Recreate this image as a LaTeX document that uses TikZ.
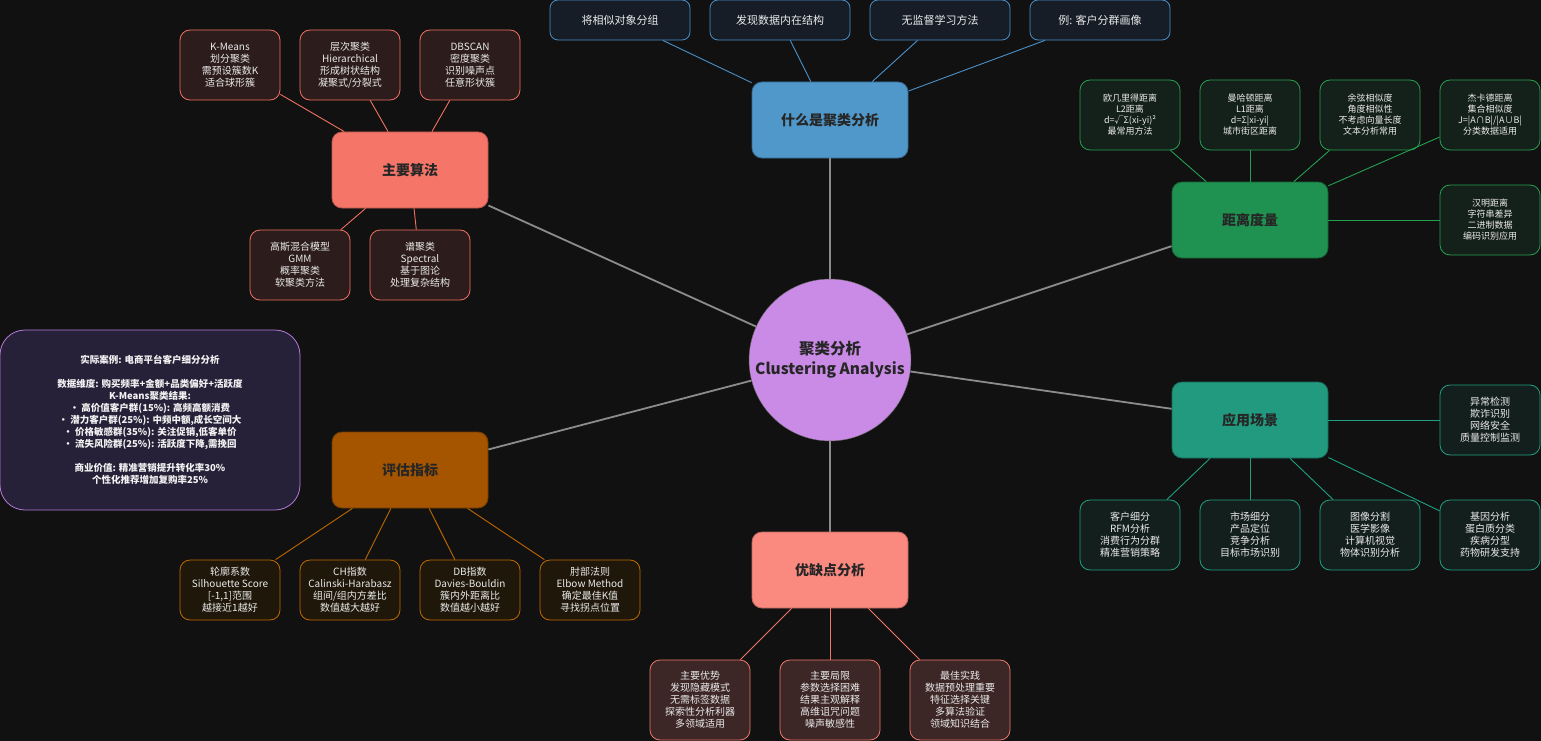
\documentclass[tikz,border=0pt]{standalone}
\usepackage{fontspec}
\setmainfont{Noto Sans CJK SC}
\usepackage{xcolor}
\definecolor{bgdark}{HTML}{111111}
\definecolor{rootfill}{HTML}{C98BE6}
\definecolor{bluefill}{HTML}{4F98C9}
\definecolor{blueline}{HTML}{4A90C8}
\definecolor{blueleaf}{HTML}{161D27}
\definecolor{algofill}{HTML}{F57668}
\definecolor{algoline}{HTML}{F07060}
\definecolor{algoleaf}{HTML}{2C1C1C}
\definecolor{distfill}{HTML}{1F9150}
\definecolor{distline}{HTML}{25A050}
\definecolor{distleaf}{HTML}{14201A}
\definecolor{appfill}{HTML}{229A80}
\definecolor{appline}{HTML}{20A080}
\definecolor{appleaf}{HTML}{131F1D}
\definecolor{evalfill}{HTML}{A55400}
\definecolor{evalline}{HTML}{C06800}
\definecolor{evalleaf}{HTML}{1E170A}
\definecolor{prosfill}{HTML}{FA8A80}
\definecolor{prosline}{HTML}{F07868}
\definecolor{prosleaf}{HTML}{3C2626}
\definecolor{casefill}{HTML}{262138}
\definecolor{caseline}{HTML}{B47AD8}
\definecolor{linkgray}{HTML}{8C8C8C}

\begin{document}
\begin{tikzpicture}[x=1pt, y=-1pt,
    mainbox/.style={rectangle, rounded corners=10pt, minimum width=156pt, minimum height=76pt,
        line width=0.8pt, text=black!85, font=\fontsize{14}{16}\selectfont\bfseries},
    leaf/.style={rectangle, rounded corners=10pt, minimum width=100pt, minimum height=70pt,
        align=center, line width=0.8pt, text=white!92!black, font=\fontsize{10}{12}\selectfont},
    topleaf/.style={leaf, rounded corners=8pt, minimum width=140pt, minimum height=40pt,
        font=\fontsize{11}{13}\selectfont},
    link/.style={draw=linkgray, line width=1.8pt},
]
    % Background
    \fill [bgdark] (0, 0) rectangle (1541, 741);
    \useasboundingbox (0, 0) rectangle (1541, 741);
    % Root
    \node [circle, fill=rootfill, draw=black!60, minimum size=156pt, align=center,
        font=\fontsize{15.5}{20}\selectfont\bfseries, text=black!85] (root) at (830, 360)
        {聚类分析\\Clustering Analysis};
    % What is clustering
    \node [mainbox, fill=bluefill, draw=bluefill!70!black] (whatis) at (830, 120) {什么是聚类分析};
    \node [topleaf, fill=blueleaf, draw=blueline] (w1) at (620, 20) {将相似对象分组};
    \node [topleaf, fill=blueleaf, draw=blueline] (w2) at (780, 20) {发现数据内在结构};
    \node [topleaf, fill=blueleaf, draw=blueline] (w3) at (940, 20) {无监督学习方法};
    \node [topleaf, fill=blueleaf, draw=blueline] (w4) at (1100, 20) {例: 客户分群画像};
    % Main algorithms
    \node [mainbox, fill=algofill, draw=algofill!75!black] (algo) at (410, 170) {主要算法};
    \node [leaf, fill=algoleaf, draw=algoline] (a1) at (230, 65) {K-Means\\划分聚类\\需预设簇数K\\适合球形簇};
    \node [leaf, fill=algoleaf, draw=algoline] (a2) at (350, 65) {层次聚类\\Hierarchical\\形成树状结构\\凝聚式/分裂式};
    \node [leaf, fill=algoleaf, draw=algoline] (a3) at (470, 65) {DBSCAN\\密度聚类\\识别噪声点\\任意形状簇};
    \node [leaf, fill=algoleaf, draw=algoline] (a4) at (300, 265) {高斯混合模型\\GMM\\概率聚类\\软聚类方法};
    \node [leaf, fill=algoleaf, draw=algoline] (a5) at (420, 265) {谱聚类\\Spectral\\基于图论\\处理复杂结构};
    % Distance measures
    \node [mainbox, fill=distfill, draw=distfill!70!black] (dist) at (1250, 220) {距离度量};
    \node [leaf, fill=distleaf, draw=distline, font=\fontsize{9}{11}\selectfont] (d1) at (1130, 115) {欧几里得距离\\L2距离\\d=√Σ(xi-yi)²\\最常用方法};
    \node [leaf, fill=distleaf, draw=distline, font=\fontsize{9}{11}\selectfont] (d2) at (1250, 115) {曼哈顿距离\\L1距离\\d=Σ|xi-yi|\\城市街区距离};
    \node [leaf, fill=distleaf, draw=distline, font=\fontsize{9}{11}\selectfont] (d3) at (1370, 115) {余弦相似度\\角度相似性\\不考虑向量长度\\文本分析常用};
    \node [leaf, fill=distleaf, draw=distline, font=\fontsize{9}{11}\selectfont] (d4) at (1490, 115) {杰卡德距离\\集合相似度\\J=|A∩B|/|A∪B|\\分类数据适用};
    \node [leaf, fill=distleaf, draw=distline, font=\fontsize{9}{11}\selectfont] (d5) at (1490, 220) {汉明距离\\字符串差异\\二进制数据\\编码识别应用};
    % Application scenarios
    \node [mainbox, fill=appfill, draw=appfill!70!black] (app) at (1250, 420) {应用场景};
    \node [leaf, fill=appleaf, draw=appline] (s1) at (1490, 420) {异常检测\\欺诈识别\\网络安全\\质量控制监测};
    \node [leaf, fill=appleaf, draw=appline] (s2) at (1130, 535) {客户细分\\RFM分析\\消费行为分群\\精准营销策略};
    \node [leaf, fill=appleaf, draw=appline] (s3) at (1250, 535) {市场细分\\产品定位\\竞争分析\\目标市场识别};
    \node [leaf, fill=appleaf, draw=appline] (s4) at (1370, 535) {图像分割\\医学影像\\计算机视觉\\物体识别分析};
    \node [leaf, fill=appleaf, draw=appline] (s5) at (1490, 535) {基因分析\\蛋白质分类\\疾病分型\\药物研发支持};
    % Evaluation metrics
    \node [mainbox, fill=evalfill, draw=evalfill!70!black] (eval) at (410, 470) {评估指标};
    \node [leaf, minimum height=60pt, fill=evalleaf, draw=evalline] (e1) at (230, 590) {轮廓系数\\Silhouette Score\\{}[-1,1]范围\\越接近1越好};
    \node [leaf, minimum height=60pt, fill=evalleaf, draw=evalline] (e2) at (350, 590) {CH指数\\Calinski-Harabasz\\组间/组内方差比\\数值越大越好};
    \node [leaf, minimum height=60pt, fill=evalleaf, draw=evalline] (e3) at (470, 590) {DB指数\\Davies-Bouldin\\簇内外距离比\\数值越小越好};
    \node [leaf, minimum height=60pt, fill=evalleaf, draw=evalline] (e4) at (590, 590) {肘部法则\\Elbow Method\\确定最佳K值\\寻找拐点位置};
    % Pros and cons
    \node [mainbox, fill=prosfill, draw=prosfill!75!black] (pros) at (830, 570) {优缺点分析};
    \node [leaf, minimum height=80pt, fill=prosleaf, draw=prosline] (c1) at (700, 700) {主要优势\\发现隐藏模式\\无需标签数据\\探索性分析利器\\多领域适用};
    \node [leaf, minimum height=80pt, fill=prosleaf, draw=prosline] (c2) at (830, 700) {主要局限\\参数选择困难\\结果主观解释\\高维诅咒问题\\噪声敏感性};
    \node [leaf, minimum height=80pt, fill=prosleaf, draw=prosline] (c3) at (960, 700) {最佳实践\\数据预处理重要\\特征选择关键\\多算法验证\\领域知识结合};
    % Case study
    \node [rectangle, rounded corners=25pt, minimum width=300pt, minimum height=180pt, align=center,
        fill=casefill, draw=caseline, line width=0.8pt, text=white!95!black,
        font=\fontsize{9.5}{12}\selectfont\bfseries] (case) at (150, 420)
        {实际案例: 电商平台客户细分分析\\[12pt]
         数据维度: 购买频率+金额+品类偏好+活跃度\\
         K-Means聚类结果:\\
         • 高价值客户群(15\%): 高频高额消费\\
         • 潜力客户群(25\%): 中频中额,成长空间大\\
         • 价格敏感群(35\%): 关注促销,低客单价\\
         • 流失风险群(25\%): 活跃度下降,需挽回\\[12pt]
         商业价值: 精准营销提升转化率30\%\\
         个性化推荐增加复购率25\%};
    % Main links
    \draw [link] (root) -- (whatis);
    \draw [link] (root) -- (algo);
    \draw [link] (root) -- (dist);
    \draw [link] (root) -- (app);
    \draw [link] (root) -- (eval);
    \draw [link] (root) -- (pros);
    % Leaf links
    \draw [blueline, line width=0.9pt] (whatis) -- (w1);
    \draw [blueline, line width=0.9pt] (whatis) -- (w2);
    \draw [blueline, line width=0.9pt] (whatis) -- (w3);
    \draw [blueline, line width=0.9pt] (whatis) -- (w4);
    \draw [algoline, line width=0.9pt] (algo) -- (a1);
    \draw [algoline, line width=0.9pt] (algo) -- (a2);
    \draw [algoline, line width=0.9pt] (algo) -- (a3);
    \draw [algoline, line width=0.9pt] (algo) -- (a4);
    \draw [algoline, line width=0.9pt] (algo) -- (a5);
    \draw [distline, line width=0.9pt] (dist) -- (d1);
    \draw [distline, line width=0.9pt] (dist) -- (d2);
    \draw [distline, line width=0.9pt] (dist) -- (d3);
    \draw [distline, line width=0.9pt] (dist) -- (d4);
    \draw [distline, line width=0.9pt] (dist) -- (d5);
    \draw [appline, line width=0.9pt] (app) -- (s1);
    \draw [appline, line width=0.9pt] (app) -- (s2);
    \draw [appline, line width=0.9pt] (app) -- (s3);
    \draw [appline, line width=0.9pt] (app) -- (s4);
    \draw [appline, line width=0.9pt] (app) -- (s5);
    \draw [evalline, line width=0.9pt] (eval) -- (e1);
    \draw [evalline, line width=0.9pt] (eval) -- (e2);
    \draw [evalline, line width=0.9pt] (eval) -- (e3);
    \draw [evalline, line width=0.9pt] (eval) -- (e4);
    \draw [prosline, line width=0.9pt] (pros) -- (c1);
    \draw [prosline, line width=0.9pt] (pros) -- (c2);
    \draw [prosline, line width=0.9pt] (pros) -- (c3);
\end{tikzpicture}
\end{document}
